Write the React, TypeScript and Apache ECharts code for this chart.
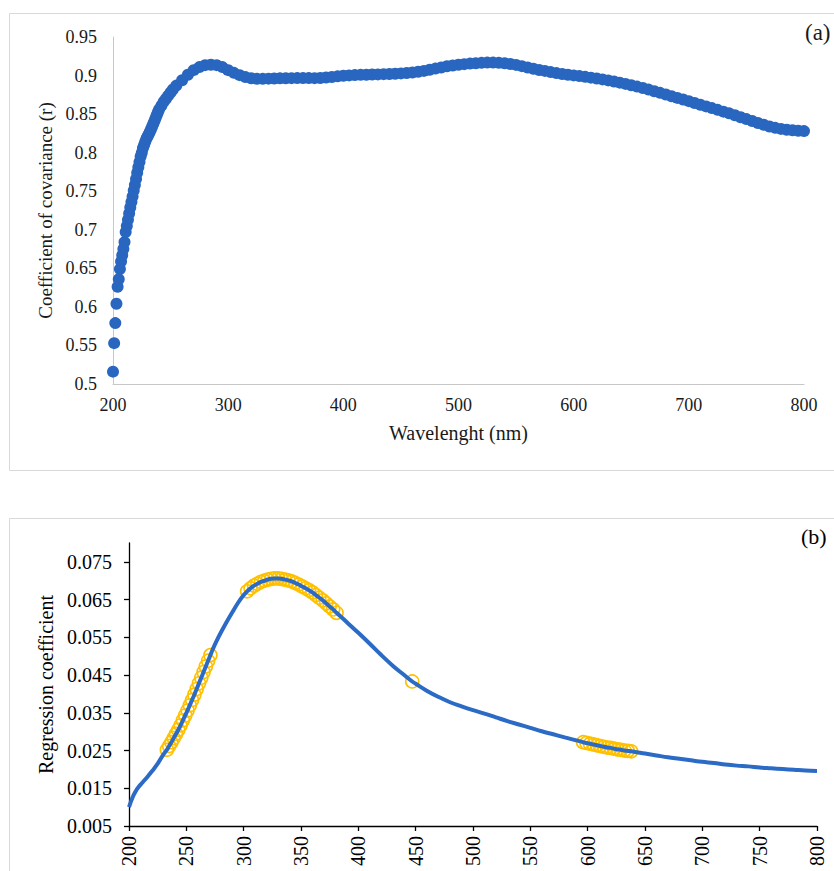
import React, { useEffect, useRef } from "react";
import * as echarts from "echarts";

// ---- Panel (a): coefficient of covariance ----
const waveA = [
  200, 201, 202, 203, 204, 205, 206, 207, 208, 209, 210, 211, 212, 213, 214, 215, 216, 217, 218, 219,
  220, 221, 222, 223, 224, 225, 226, 227, 228, 229, 230, 231, 232, 233, 234, 235, 236, 237, 238, 239,
  240, 242, 244, 246, 248, 250, 252, 255, 260,
  265, 270, 275, 280, 285, 290, 295, 300, 305, 310, 315, 320, 325, 330, 335, 340, 345, 350, 355,
  360, 365, 370, 375, 380, 385, 390, 395, 400, 405, 410, 415, 420, 425, 430, 435, 440, 445, 450,
  455, 460, 465, 470, 475, 480, 485, 490, 495, 500, 505, 510, 515, 520, 525, 530, 535, 540, 545,
  550, 555, 560, 565, 570, 575, 580, 585, 590, 595, 600, 605, 610, 615, 620, 625, 630, 635, 640,
  645, 650, 655, 660, 665, 670, 675, 680, 685, 690, 695, 700, 705, 710, 715, 720, 725, 730, 735,
  740, 745, 750, 755, 760, 765, 770, 775, 780, 785, 790, 795, 800,
];
const covarianceA = [
  0.516, 0.553, 0.579, 0.604, 0.626, 0.636, 0.649, 0.659, 0.667, 0.675, 0.684, 0.697, 0.705, 0.713,
  0.721, 0.729, 0.736, 0.743, 0.751, 0.758,
  0.766, 0.774, 0.781, 0.788, 0.795, 0.8, 0.806, 0.81, 0.814, 0.818, 0.821, 0.824, 0.827, 0.8305,
  0.834, 0.8375, 0.841, 0.845, 0.849, 0.8525,
  0.856, 0.861, 0.866, 0.87, 0.874, 0.878, 0.882, 0.887, 0.894, 0.901, 0.907, 0.911,
  0.9135, 0.914, 0.9135, 0.911, 0.907, 0.9035, 0.9005, 0.898, 0.8965, 0.8957, 0.8957, 0.896, 0.8962,
  0.8964, 0.8965, 0.8966, 0.8967, 0.8967, 0.8967, 0.8966, 0.8968, 0.8975, 0.8982, 0.899, 0.8997,
  0.9002, 0.9006, 0.9009, 0.9011, 0.9013, 0.9015, 0.9018, 0.9021, 0.9024, 0.9028, 0.9034, 0.904,
  0.905, 0.906, 0.9075, 0.909, 0.9105, 0.912, 0.913, 0.914, 0.9148, 0.9155, 0.916, 0.9165, 0.9168,
  0.9168, 0.9165, 0.916, 0.915, 0.9138, 0.9122, 0.9105, 0.9088, 0.9072, 0.906, 0.9045, 0.9032,
  0.902, 0.901, 0.9002, 0.8993, 0.8983, 0.8973, 0.8962, 0.895, 0.8937, 0.8923, 0.8908, 0.8892,
  0.8875, 0.8857, 0.8838, 0.8818, 0.8797, 0.8776, 0.8754, 0.8732, 0.871, 0.8689, 0.8668, 0.8645,
  0.8622, 0.86, 0.8578, 0.8555, 0.8532, 0.851, 0.8485, 0.846, 0.8435, 0.841, 0.8385, 0.8362, 0.834,
  0.8322, 0.8308, 0.8298, 0.829, 0.8285, 0.828,
];
const ticksYA = [0.5, 0.95];

// ---- Panel (b): regression coefficient ----
const waveB = [
  200, 203, 206, 208, 212, 216, 220, 225, 230, 233, 235, 237, 239, 241, 243, 245, 247, 249, 251,
  253, 255, 257, 259, 261, 263, 265, 267, 269, 271, 273, 276, 280, 285, 290, 295, 300, 303, 306,
  309, 312, 315, 318, 321, 324, 327, 330, 333, 336, 339, 342, 345, 348, 351, 354, 357, 360, 363,
  366, 369, 372, 375, 378, 381, 390, 400, 410, 420, 430, 440, 447, 450, 460, 470, 480, 490, 500,
  510, 520, 530, 540, 550, 560, 570, 580, 590, 596, 599, 602, 605, 608, 611, 614, 617, 620, 623,
  626, 629, 632, 635, 638, 650, 660, 670, 680, 690, 700, 710, 720, 730, 740, 750, 760, 770, 780,
  790, 800,
];
const regressionB = [
  0.01, 0.0125, 0.0143, 0.0152, 0.0166, 0.018, 0.0195, 0.0215, 0.024, 0.0252, 0.0262, 0.0272,
  0.0283, 0.0294, 0.0305, 0.0317, 0.033, 0.0343, 0.0356, 0.037, 0.0384, 0.0398, 0.0413, 0.0428,
  0.0443, 0.0458, 0.0473, 0.0488, 0.0503, 0.0518, 0.0538, 0.0562, 0.059, 0.0616, 0.0641, 0.0662,
  0.0672, 0.068, 0.0687, 0.0692, 0.0697, 0.07, 0.0703, 0.0705, 0.0706, 0.0706, 0.0705, 0.0703,
  0.0701, 0.0698, 0.0694, 0.069, 0.0685, 0.068, 0.0675, 0.0669, 0.0662, 0.0655, 0.0648, 0.064,
  0.0632, 0.0624, 0.0615, 0.059, 0.0562, 0.0533, 0.0503, 0.0475, 0.045, 0.0433, 0.0427, 0.0408,
  0.0392, 0.0378, 0.0367, 0.0357, 0.0348, 0.0338, 0.0328, 0.0319, 0.031, 0.0301, 0.0293, 0.0285,
  0.0277, 0.0272, 0.027, 0.0268, 0.0266, 0.0264, 0.0262, 0.026, 0.0258, 0.0257, 0.0255, 0.0253,
  0.0252, 0.025, 0.0249, 0.0248, 0.0242, 0.0237, 0.0232, 0.0228, 0.0224, 0.022, 0.0217, 0.0213,
  0.021, 0.0208, 0.0205, 0.0203, 0.0201, 0.0199, 0.0197, 0.0196,
];
// wavelength ranges flagged with gold circles
const selectedRanges = [
  [233, 271],
  [303, 381],
  [447, 447],
  [596, 638],
];
const ticksYB = [0.005, 0.015, 0.025, 0.035, 0.045, 0.055, 0.065, 0.075];

const FONT = "'Liberation Serif', 'Times New Roman', serif";

export default function App() {
  const ref = useRef<HTMLDivElement>(null);
  useEffect(() => {
    document.body.style.margin = "0";
    const chart = echarts.init(ref.current!, null, { renderer: "svg" });
    const dataA = waveA.map((w, i) => [w, covarianceA[i]]);
    const dataB = waveB.map((w, i) => [w, regressionB[i]]);
    const selB = dataB.filter(([w]) => selectedRanges.some(([a, b]) => w >= a && w <= b));
    const greyAxis = { show: true, lineStyle: { color: "#c8c8c8", width: 1 } };
    const blackAxis = { show: true, lineStyle: { color: "#000", width: 1.3 } };
    chart.setOption({
      animation: false,
      backgroundColor: "#fff",
      textStyle: { fontFamily: FONT },
      graphic: [
        { type: "rect", shape: { x: 9.5, y: 13.5, width: 840, height: 457 }, style: { fill: "none", stroke: "#d9d9d9", lineWidth: 1 } },
        { type: "rect", shape: { x: 9.5, y: 518.5, width: 840, height: 400 }, style: { fill: "none", stroke: "#d9d9d9", lineWidth: 1 } },
        { type: "text", x: 805, y: 21, style: { text: "(a)", fontSize: 23, fontFamily: FONT, fill: "#1a1a1a" } },
        { type: "text", x: 801, y: 525, style: { text: "(b)", fontSize: 22, fontFamily: FONT, fill: "#000" } },
      ],
      grid: [
        { left: 113, top: 37, width: 691, height: 347 },
        { left: 129, top: 543, width: 688, height: 283 },
      ],
      xAxis: [
        {
          gridIndex: 0, type: "value", min: 200, max: 800, interval: 100,
          axisLine: greyAxis, axisTick: { show: false }, splitLine: { show: false },
          axisLabel: { fontSize: 18, fontFamily: FONT, color: "#1a1a1a", margin: 12 },
          name: "Wavelenght (nm)", nameLocation: "middle", nameGap: 39,
          nameTextStyle: { fontSize: 20, fontFamily: FONT, color: "#1a1a1a" },
        },
        {
          gridIndex: 1, type: "value", min: 200, max: 800, interval: 50,
          axisLine: blackAxis, axisTick: { show: true, length: 5, lineStyle: { color: "#000", width: 1.3 } },
          splitLine: { show: false },
          axisLabel: { fontSize: 20, fontFamily: FONT, color: "#000", rotate: 90, margin: 10 },
        },
      ],
      yAxis: [
        {
          gridIndex: 0, type: "value", min: ticksYA[0], max: ticksYA[1], interval: 0.05,
          axisLine: greyAxis, axisTick: { show: false }, splitLine: { show: false },
          axisLabel: { fontSize: 18, fontFamily: FONT, color: "#1a1a1a", margin: 16 },
          name: "Coefficient of covariance (r)", nameLocation: "middle", nameGap: 55,
          nameTextStyle: { fontSize: 19, fontFamily: FONT, color: "#1a1a1a" },
        },
        {
          gridIndex: 1, type: "value", min: 0.005, max: 0.08,
          axisLine: blackAxis,
          axisTick: { show: true, length: 5, customValues: ticksYB, lineStyle: { color: "#000", width: 1.3 } },
          splitLine: { show: false },
          axisLabel: {
            fontSize: 20, fontFamily: FONT, color: "#000", margin: 17, customValues: ticksYB,
            formatter: (v: number) => v.toFixed(3),
          },
          name: "Regression coefficient", nameLocation: "middle", nameGap: 72,
          nameTextStyle: { fontSize: 20, fontFamily: FONT, color: "#000" },
        },
      ],
      series: [
        {
          type: "scatter", xAxisIndex: 0, yAxisIndex: 0, data: dataA,
          symbol: "circle", symbolSize: 12, itemStyle: { color: "#2966c0", opacity: 1 },
        },
        {
          type: "line", xAxisIndex: 1, yAxisIndex: 1, data: dataB, smooth: 0.4,
          showSymbol: false, lineStyle: { color: "#2b6bc6", width: 4 },
        },
        {
          type: "scatter", xAxisIndex: 1, yAxisIndex: 1, data: selB,
          symbol: "circle", symbolSize: 13,
          itemStyle: { color: "rgba(255,255,255,0)", borderColor: "#ffc000", borderWidth: 1.6, opacity: 1 },
        },
      ],
    });
    return () => chart.dispose();
  }, []);
  return <div ref={ref} style={{ width: 834, height: 871, overflow: "hidden" }} />;
}
